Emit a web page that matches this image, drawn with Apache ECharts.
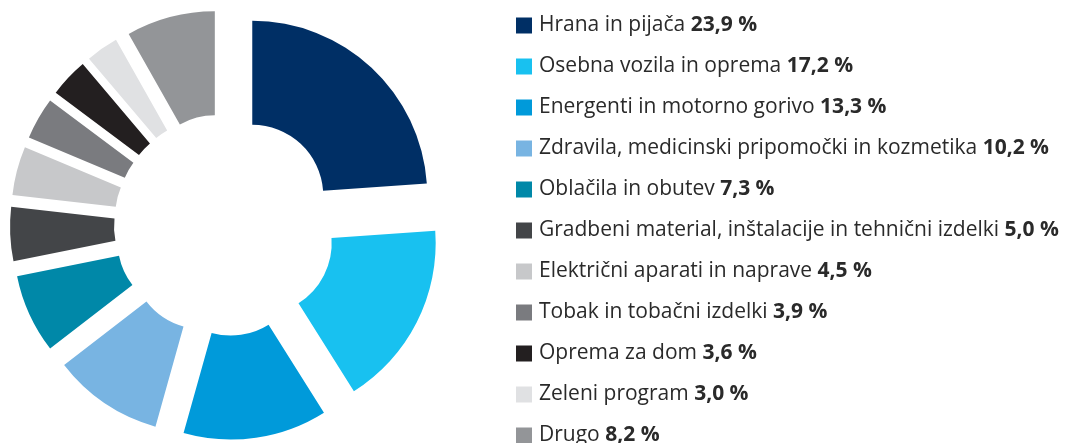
<!DOCTYPE html>
<html>
<head>
<meta charset="utf-8">
<script src="https://cdn.jsdelivr.net/npm/echarts@6/dist/echarts.min.js"></script>
<style>
  html, body { margin: 0; padding: 0; background: #fff; }
  #chart { width: 1078px; height: 443px; }
</style>
</head>
<body>
<div id="chart"></div>
<script>
  // deleži po skupinah
  var categories = [
    'Hrana in pijača',
    'Osebna vozila in oprema',
    'Energenti in motorno gorivo',
    'Zdravila, medicinski pripomočki in kozmetika',
    'Oblačila in obutev',
    'Gradbeni material, inštalacije in tehnični izdelki',
    'Električni aparati in naprave',
    'Tobak in tobačni izdelki',
    'Oprema za dom',
    'Zeleni program',
    'Drugo'
  ];
  var values = [23.9, 17.2, 13.3, 10.2, 7.3, 5.0, 4.5, 3.9, 3.6, 3.0, 8.2];
  var colors = ['#002F65', '#18C1F0', '#009ADA', '#78B4E2', '#0088A8', '#434548',
                '#C7C8CA', '#7A7B7F', '#231F20', '#E0E1E3', '#939598'];

  var chart = echarts.init(document.getElementById('chart'));

  var pieData = [];
  categories.forEach(function (name, i) {
    pieData.push({
      name: name,
      value: values[i],
      selected: true,
      itemStyle: { color: colors[i] }
    });
  });

  function fmt(v) {
    return v.toFixed(1).replace('.', ',') + ' %';
  }

  chart.setOption({
    animation: false,
    legend: {
      orient: 'vertical',
      left: 511,
      top: 10,
      height: 600,
      icon: 'rect',
      itemWidth: 16,
      itemHeight: 16,
      itemGap: 20,
      selectedMode: false,
      data: categories,
      formatter: function (name) {
        var idx = categories.indexOf(name);
        return '{n|' + name + ' }{v|' + fmt(values[idx]) + '}';
      },
      textStyle: {
        padding: [0, 0, 0, 2],
        rich: {
          n: { fontFamily: 'Open Sans', fontSize: 21, color: '#2a2a2a', lineHeight: 16 },
          v: { fontFamily: 'Open Sans', fontSize: 21, fontWeight: 'bold', color: '#2a2a2a', lineHeight: 16 }
        }
      }
    },
    series: [{
      type: 'pie',
      center: [225, 225],
      radius: [71, 175],
      startAngle: 90,
      clockwise: true,
      selectedMode: 'multiple',
      selectedOffset: 40,
      label: { show: false },
      labelLine: { show: false },
      emphasis: { disabled: true },
      itemStyle: { borderWidth: 0 },
      data: pieData
    }]
  });
</script>
</body>
</html>
